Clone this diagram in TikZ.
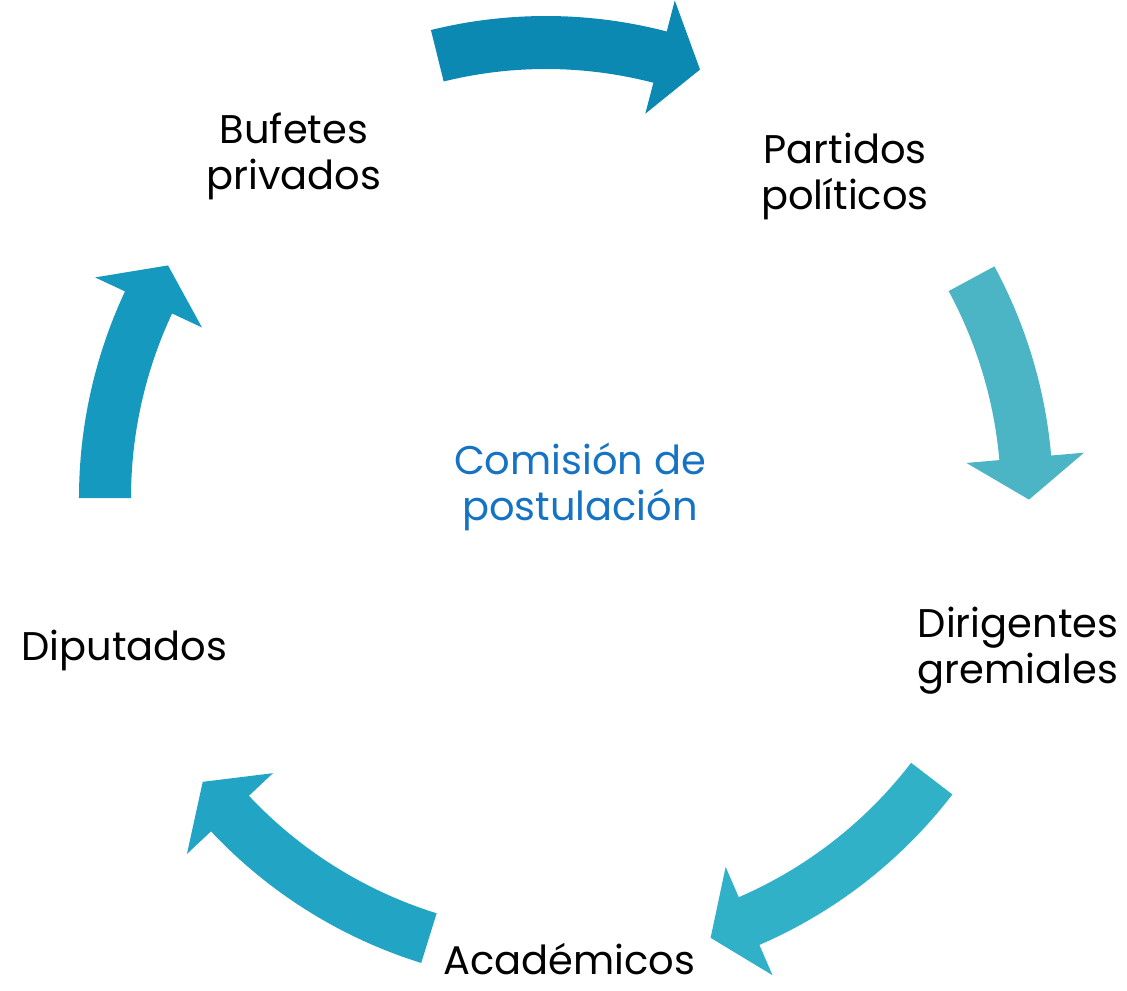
\documentclass[tikz,border=0pt]{standalone}
\usepackage{fontspec}
\setmainfont{Poppins}
\definecolor{arrowtop}{RGB}{11,137,179}
\definecolor{arrowright}{RGB}{75,181,197}
\definecolor{arrowlowright}{RGB}{49,177,200}
\definecolor{arrowlowleft}{RGB}{34,165,196}
\definecolor{arrowleft}{RGB}{21,153,190}
\definecolor{centerblue}{RGB}{22,115,196}
\begin{document}
\begin{tikzpicture}[
  x=0.5pt, y=0.5pt,
  label/.style={inner sep=0pt, align=center, font=\fontsize{20}{23}\selectfont}
]
  \useasboundingbox (-566,-492) rectangle (561,498);

  % arrows of the cycle (tail angle, head base, tip)
  \begin{scope}[shift={(-20,3)}]
    \fill[arrowtop] (103.9:479) arc[start angle=103.9, end angle=75.4, radius=479]
      -- (75.4:511) -- (70.1:452.5) -- (75.4:394) -- (75.4:426)
      arc[start angle=75.4, end angle=103.9, radius=426] -- cycle;
  \end{scope}
  \fill[arrowright] (28.4:487) arc[start angle=28.4, end angle=5.0, radius=487]
    -- (5.0:520) -- (-0.2:463) -- (5.0:402) -- (5.0:435)
    arc[start angle=5.0, end angle=28.4, radius=435] -- cycle;
  \fill[arrowlowright] (-37.5:487) arc[start angle=-37.5, end angle=-66.6, radius=487]
    -- (-66.6:520) -- (-71.8:463) -- (-66.6:402) -- (-66.6:435)
    arc[start angle=-66.6, end angle=-37.5, radius=435] -- cycle;
  \fill[arrowlowleft] (-107.3:487) arc[start angle=-107.3, end angle=-136.8, radius=487]
    -- (-136.8:520) -- (-142:461) -- (-136.8:402) -- (-136.8:435)
    arc[start angle=-136.8, end angle=-107.3, radius=435] -- cycle;
  \fill[arrowleft] (180:487) arc[start angle=180, end angle=154.9, radius=487]
    -- (154.9:520) -- (149.7:461) -- (154.9:402) -- (154.9:435)
    arc[start angle=154.9, end angle=180, radius=435] -- cycle;

  \node[label, anchor=north] (bufetes) at (-272, 385) {Bufetes\\privados};
  \node[label, anchor=north] (partidos) at (279, 365) {Partidos\\políticos};
  \node[label, anchor=north] (dirigentes) at (452, -109) {Dirigentes\\gremiales};
  \node[label, anchor=base] (academicos) at (3, -476) {Académicos};
  \node[label, anchor=base] (diputados) at (-441.5, -162) {Diputados};

  \node[label, anchor=north, text=centerblue] (comision) at (14, 55) {Comisión de\\postulación};
\end{tikzpicture}
\end{document}
